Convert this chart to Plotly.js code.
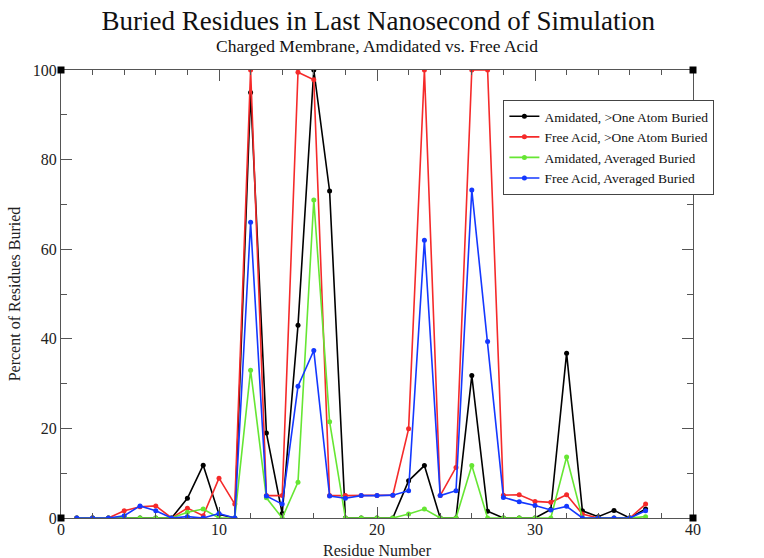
<!DOCTYPE html>
<html>
<head>
<meta charset="utf-8">
<script src="https://cdn.plot.ly/plotly-3.0.1.min.js"></script>
<style>html,body{margin:0;padding:0;background:#fff;}#chart{width:764px;height:558px;}</style>
</head>
<body>
<div id="chart"></div>
<script>
const residues = [1,2,3,4,5,6,7,8,9,10,11,12,13,14,15,16,17,18,19,20,21,22,23,24,25,26,27,28,29,30,31,32,33,34,35,36,37];
const amidatedOneAtom = [0,0,0,0,0,0,0,4.4,11.8,0.8,0,95,19,1,43,100,73,0,0,0,0,8.3,11.7,0,0,31.8,1.5,0,0,0,1.9,36.8,1.6,0.3,1.7,0,2];
const freeAcidOneAtom = [0,0,0,1.6,2.5,2.7,0,2.2,0.5,8.9,3.1,100,5,5,99.5,97.8,5,5,5,5,5.1,19.9,100,5,11.3,100,100,5.1,5.2,3.7,3.5,5.2,0.9,0,0,0,3.1];
const amidatedAveraged = [0,0,0,0,0,0,0,1.3,2,0,0,33,4.5,0,8,71,21.5,0,0,0,0,0.9,2,0,0,11.7,0,0,0,0,0,13.6,0,0,0,0,0.3];
const freeAcidAveraged = [0,0,0,0.5,2.7,1.6,0,0.3,0,1,0,66,4.9,3.1,29.4,37.4,4.9,4.4,5,5,5.1,6.1,62,5,6.1,73.2,39.4,4.6,3.6,2.8,1.8,2.6,0,0,0,0,1.6];
const seriesNames = ["Amidated, >One Atom Buried","Free Acid, >One Atom Buried","Amidated, Averaged Buried","Free Acid, Averaged Buried"];
const seriesColors = ["#000000","#f52a2a","#66e633","#1438ff"];
const xTickVals = [0,10,20,30,40];
const yTickVals = [0,20,40,60,80,100];

const serif = "Liberation Serif, Times New Roman, serif";
const ys = [amidatedOneAtom, freeAcidOneAtom, amidatedAveraged, freeAcidAveraged];
const traces = ys.map((y,i)=>({
  x: residues, y: y, type:'scatter', mode:'lines+markers', name: seriesNames[i],
  line:{color:seriesColors[i], width:1.6},
  marker:{color:seriesColors[i], size:5}
}));

function corner(x,y){
  return {type:'rect', xref:'paper', yref:'paper', xsizemode:'pixel', ysizemode:'pixel',
    xanchor:x, yanchor:y, x0:-3.5, x1:3.5, y0:-3.5, y1:3.5, fillcolor:'#000', line:{width:0}};
}

const axisCommon = {
  showline:true, linecolor:'#555', linewidth:1, mirror:'allticks',
  ticks:'inside', ticklen:11, tickwidth:1, tickcolor:'#555',
  showgrid:false, zeroline:false,
  tickfont:{family:serif, size:16, color:'#222'}
};

const layout = {
  width:764, height:558,
  margin:{l:61, r:71, t:70, b:40},
  paper_bgcolor:'#fff', plot_bgcolor:'#fff',
  title:{text:'Buried Residues in Last Nanosecond of Simulation', font:{family:serif, size:27, color:'#111'},
    x:0.495, xanchor:'center', y:0.963, yref:'container', yanchor:'middle'},
  annotations:[
    {text:'Charged Membrane, Amdidated vs. Free Acid', xref:'paper', yref:'paper',
      x:0.5, y:1.054, xanchor:'center', yanchor:'middle', showarrow:false,
      font:{family:serif, size:17.5, color:'#111'}},
    {text:'Residue Number', xref:'paper', yref:'paper',
      x:0.5, y:-0.0513, xanchor:'center', yanchor:'top', showarrow:false, borderpad:0,
      font:{family:serif, size:16, color:'#222'}}
  ],
  xaxis:Object.assign({}, axisCommon, {range:[0,40], tickvals:xTickVals, ticklabelstandoff:-3,
    minor:{dtick:2, ticks:'inside', ticklen:5, tickcolor:'#555'}}),
  yaxis:Object.assign({}, axisCommon, {range:[0,100], tickvals:yTickVals,
    minor:{dtick:10, ticks:'inside', ticklen:6, tickcolor:'#555'},
    title:{text:'Percent of Residues Buried', font:{family:serif, size:16, color:'#222'}, standoff:8}}),
  legend:{x:0.70, y:0.933, xanchor:'left', yanchor:'top', bgcolor:'#fff',
    bordercolor:'#444', borderwidth:1, font:{family:serif, size:13.5, color:'#111'},
    tracegroupgap:0, itemwidth:30},
  shapes:[corner(0,0), corner(1,0), corner(0,1), corner(1,1)],
  showlegend:true
};

Plotly.newPlot('chart', traces, layout, {displayModeBar:false, staticPlot:true});
</script>
</body>
</html>
